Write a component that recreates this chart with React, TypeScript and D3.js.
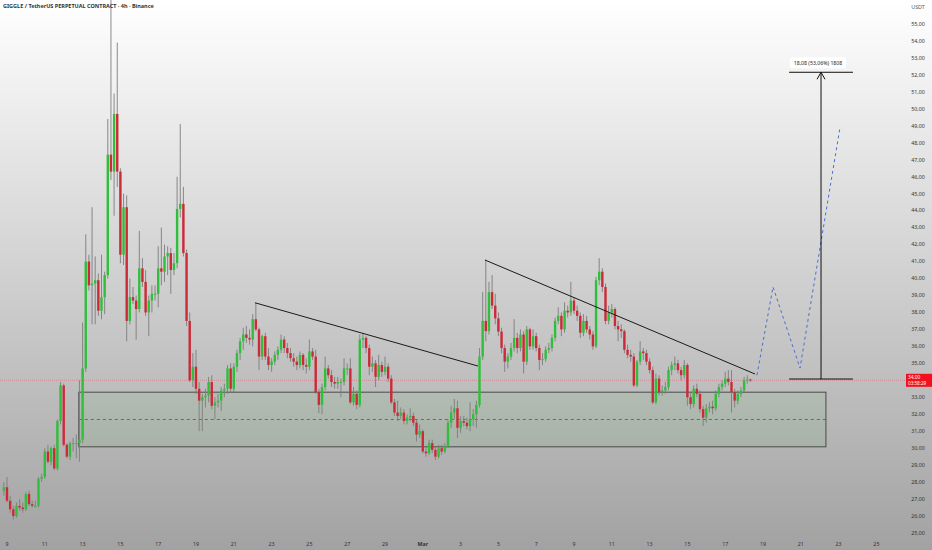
import { useEffect, useRef } from "react";
import * as d3 from "d3";

// 4h candles, first one opens on day 8 at 20:00
const startDay = 8 + 5 / 6;
const candlesPerDay = 6;

// [open, high, low, close]
const candles: [number, number, number, number][] = [
    [27.5, 28.0, 27.2, 27.7], [27.7, 28.3, 26.8, 26.9], [26.9, 27.2, 26.2, 26.4],
    [26.4, 26.6, 25.8, 26.0], [26.0, 26.8, 25.9, 26.6], [26.6, 27.0, 26.3, 26.5], [26.5, 26.8, 26.2, 26.4],
    [26.4, 27.4, 26.3, 27.3], [27.3, 27.5, 26.6, 26.7], [26.7, 26.9, 26.5, 26.6], [26.6, 26.9, 26.5, 26.6],
    [26.6, 28.3, 26.5, 28.2], [28.2, 28.5, 28.0, 28.3], [28.3, 30.0, 28.2, 29.8], [29.8, 30.2, 29.1, 29.2],
    [29.2, 30.1, 29.0, 30.0], [30.0, 30.2, 28.7, 28.8], [28.8, 31.7, 28.7, 31.6], [31.6, 33.9, 31.4, 33.7],
    [33.7, 33.8, 30.1, 30.2], [30.2, 30.3, 29.4, 29.5], [29.5, 30.4, 29.3, 30.3], [30.3, 30.6, 29.8, 30.3],
    [30.3, 30.8, 29.4, 30.3], [30.3, 34.0, 29.2, 30.5], [30.5, 37.4, 30.3, 34.7], [34.7, 42.6, 34.5, 41.0],
    [41.0, 41.4, 39.3, 39.6], [39.6, 44.2, 37.3, 39.7], [39.7, 41.3, 37.3, 39.9],
    [39.9, 40.3, 37.8, 38.1], [38.1, 41.4, 37.6, 38.9], [38.9, 40.4, 37.9, 40.2], [40.2, 49.4, 40.0, 47.3],
    [47.3, 57.5, 45.8, 46.3], [46.3, 50.9, 43.7, 49.7], [49.7, 53.9, 45.4, 46.3], [46.3, 46.5, 40.9, 41.4],
    [41.4, 45.0, 40.8, 44.2], [44.2, 44.9, 36.3, 37.5], [37.5, 40.0, 37.3, 38.9], [38.9, 39.5, 38.5, 38.7],
    [38.7, 39.0, 36.4, 38.2], [38.2, 42.8, 38.0, 40.6], [40.6, 41.2, 39.5, 39.8], [39.8, 40.5, 37.8, 38.0],
    [38.0, 39.0, 36.6, 38.7], [38.7, 39.6, 38.0, 39.1], [39.1, 39.6, 38.7, 39.1], [39.1, 41.9, 38.3, 40.6],
    [40.6, 43.0, 39.6, 40.4],
    [40.4, 42.0, 39.8, 41.3], [41.3, 41.9, 40.2, 41.5], [41.5, 41.8, 39.1, 40.5], [40.5, 41.5, 40.2, 40.9],
    [40.9, 46.0, 40.6, 44.1], [44.1, 49.1, 43.6, 44.4], [44.4, 45.4, 41.3, 41.5], [41.5, 41.7, 37.2, 37.5],
    [37.5, 38.0, 33.9, 34.0], [34.0, 35.6, 33.6, 34.8], [34.8, 35.8, 33.2, 33.5], [33.5, 33.9, 31.0, 32.8],
    [32.8, 33.2, 31.0, 33.0], [33.0, 33.5, 32.4, 33.1], [33.1, 34.2, 32.7, 33.9], [33.9, 34.3, 32.3, 32.5],
    [32.5, 33.0, 31.7, 32.7], [32.7, 33.2, 32.4, 32.8], [32.8, 33.6, 32.2, 33.4], [33.4, 33.8, 33.0, 33.5],
    [33.5, 34.9, 33.2, 34.7], [34.7, 35.0, 33.3, 33.5], [33.5, 35.0, 33.3, 34.8], [34.8, 35.8, 34.5, 35.6],
    [35.6, 36.5, 35.2, 36.3], [36.3, 37.1, 35.8, 36.7], [36.7, 37.2, 36.2, 36.5], [36.5, 37.0, 36.1, 36.4],
    [36.4, 37.9, 36.0, 37.6], [37.6, 38.55, 36.9, 37.0], [37.0, 37.1, 34.6, 35.4], [35.4, 36.7, 35.2, 36.6],
    [36.6, 36.8, 35.2, 35.4], [35.4, 35.9, 34.6, 34.9], [34.9, 35.3, 34.5, 35.1], [35.1, 35.7, 34.9, 35.5],
    [35.5, 36.0, 35.2, 35.8], [35.8, 36.7, 35.6, 36.4], [36.4, 36.6, 35.6, 35.9], [35.9, 36.2, 35.3, 35.6],
    [35.6, 35.9, 35.1, 35.3], [35.3, 35.6, 34.8, 35.1], [35.1, 35.4, 34.6, 34.9], [34.9, 35.7, 34.7, 35.5],
    [35.5, 35.6, 34.6, 34.9], [34.9, 35.3, 34.4, 34.8], [34.8, 36.4, 34.6, 35.7], [35.7, 35.9, 35.2, 35.4],
    [35.4, 35.8, 33.2, 33.3], [33.3, 33.5, 32.06, 32.55], [32.55, 33.8, 32.0, 33.6], [33.6, 35.4, 33.4, 34.7],
    [34.7, 34.9, 34.1, 34.3], [34.3, 34.6, 33.6, 33.9], [33.9, 34.2, 33.5, 33.8], [33.8, 34.2, 33.5, 33.9],
    [33.9, 34.1, 33.0, 33.9],
    [33.9, 35.3, 33.7, 34.7], [34.7, 35.0, 34.3, 34.7], [34.7, 35.3, 32.6, 32.7], [32.7, 33.6, 32.5, 33.2],
    [33.2, 33.4, 32.3, 32.55], [32.55, 36.7, 32.4, 36.4], [36.4, 36.8, 35.9, 36.5], [36.5, 36.6, 35.6, 35.9],
    [35.9, 36.1, 34.3, 34.8], [34.8, 35.4, 34.5, 35.0], [35.0, 35.2, 33.6, 34.2], [34.2, 35.5, 34.0, 34.9],
    [34.9, 35.1, 34.2, 34.5], [34.5, 35.4, 34.3, 34.8], [34.8, 35.0, 33.9, 34.1], [34.1, 34.3, 32.6, 32.7],
    [32.7, 32.9, 31.9, 32.1], [32.1, 32.8, 31.6, 31.9], [31.9, 32.4, 31.7, 32.1], [32.1, 32.3, 31.4, 31.6],
    [31.6, 32.0, 31.4, 31.8], [31.8, 32.35, 31.6, 31.9], [31.9, 32.1, 31.3, 31.5], [31.5, 31.7, 30.4, 30.8],
    [30.8, 31.4, 30.6, 31.0], [31.0, 31.1, 29.7, 29.8], [29.8, 30.1, 29.5, 29.7], [29.7, 30.5, 29.6, 30.3],
    [30.3, 30.5, 29.7, 29.9], [29.9, 30.1, 29.3, 29.5], [29.5, 30.2, 29.4, 30.0], [30.0, 30.2, 29.6, 29.8],
    [29.8, 30.3, 29.7, 30.1], [30.1, 31.7, 30.0, 31.5], [31.5, 32.5, 31.2, 32.1], [32.1, 32.9, 31.7, 32.35],
    [32.35, 32.8, 30.6, 31.2], [31.2, 31.9, 30.9, 31.6], [31.6, 31.9, 31.3, 31.5], [31.5, 31.8, 31.1, 31.3],
    [31.3, 32.7, 31.0, 31.7], [31.7, 32.3, 31.3, 32.0], [32.0, 32.8, 31.2, 32.55], [32.55, 35.9, 32.4, 35.4],
    [35.4, 39.2, 35.2, 37.5], [37.5, 41.1, 36.3, 36.9], [36.9, 39.8, 36.7, 39.2], [39.2, 40.2, 38.2, 38.4],
    [38.4, 39.1, 37.3, 37.65], [37.65, 38.0, 36.6, 36.87], [36.87, 37.1, 35.6, 35.9], [35.9, 36.1, 34.5, 35.1],
    [35.1, 35.6, 34.7, 35.4], [35.4, 36.2, 35.2, 35.9], [35.9, 37.6, 35.7, 36.5], [36.5, 36.8, 35.6, 35.9],
    [35.9, 37.0, 35.7, 36.7], [36.7, 36.9, 34.4, 35.1], [35.1, 37.2, 34.9, 37.0], [37.0, 37.1, 35.8, 36.0],
    [36.0, 37.0, 35.8, 36.6], [36.6, 36.8, 35.7, 35.9], [35.9, 36.1, 34.6, 35.2], [35.2, 35.6, 34.9, 35.25],
    [35.25, 36.0, 35.1, 35.8], [35.8, 36.2, 35.6, 35.9], [35.9, 36.7, 35.7, 36.5], [36.5, 37.7, 36.3, 37.5],
    [37.5, 38.3, 37.3, 37.8], [37.8, 38.0, 36.6, 37.0], [37.0, 38.6, 36.8, 38.1], [38.1, 38.4, 37.7, 38.0],
    [38.0, 39.8, 37.8, 38.7], [38.7, 38.9, 37.9, 38.1], [38.1, 38.4, 37.5, 37.8], [37.8, 38.0, 36.5, 36.8],
    [36.8, 37.9, 36.6, 37.5], [37.5, 37.8, 36.8, 37.0], [37.0, 37.2, 36.4, 36.7], [36.7, 36.9, 35.8, 36.0],
    [36.0, 40.1, 35.9, 39.9], [39.9, 41.2, 39.6, 40.4], [40.4, 40.6, 39.2, 39.5], [39.5, 39.7, 37.3, 37.5],
    [37.5, 38.4, 37.3, 38.0], [38.0, 38.5, 37.7, 38.2], [38.2, 38.3, 37.0, 37.2], [37.2, 37.5, 36.3, 37.0],
    [37.0, 37.3, 36.5, 36.9], [36.9, 37.0, 35.6, 35.8], [35.8, 36.1, 35.3, 35.5], [35.5, 35.8, 35.1, 35.4],
    [35.4, 35.6, 33.6, 33.7], [33.7, 35.2, 33.6, 35.1], [35.1, 36.3, 34.9, 35.7], [35.7, 35.9, 35.2, 35.6],
    [35.6, 35.8, 34.9, 35.1], [35.1, 35.3, 34.4, 34.6], [34.6, 34.8, 32.6, 32.7], [32.7, 34.4, 32.6, 34.1],
    [34.1, 34.3, 33.1, 33.3], [33.3, 33.7, 33.1, 33.4], [33.4, 33.9, 33.2, 33.6], [33.6, 34.8, 33.4, 34.6],
    [34.6, 35.1, 34.3, 34.9], [34.9, 35.4, 34.6, 35.0], [35.0, 35.2, 34.4, 34.6], [34.6, 34.8, 34.0, 34.3],
    [34.3, 35.2, 34.1, 34.9], [34.9, 35.0, 32.5, 33.0], [33.0, 33.3, 32.3, 32.6], [32.6, 33.7, 32.4, 33.5],
    [33.5, 33.8, 33.0, 33.2], [33.2, 33.4, 32.1, 32.3], [32.3, 32.5, 31.3, 31.8], [31.8, 32.6, 31.5, 32.35],
    [32.35, 32.7, 32.1, 32.45], [32.45, 32.8, 32.0, 32.35], [32.35, 33.4, 32.2, 33.2], [33.2, 33.8, 33.0, 33.6],
    [33.6, 34.0, 33.4, 33.8], [33.8, 34.5, 33.6, 34.1], [34.1, 34.6, 33.7, 33.9], [33.9, 34.6, 32.1, 33.3],
    [33.3, 33.5, 32.4, 32.8], [32.8, 33.4, 32.6, 33.2], [33.2, 33.6, 33.0, 33.4], [33.4, 34.2, 33.3, 34.0],
    [34.0, 34.3, 33.8, 34.05], [34.05, 34.1, 33.9, 34.0],
];

const priceTicks = [25, 26, 27, 28, 29, 30, 31, 32, 33, 34, 35, 36, 37, 38, 39, 40, 41, 42, 43, 44, 45, 46, 47, 48, 49, 50, 51, 52, 53, 54, 55];
const dayTicks = [9, 11, 13, 15, 17, 19, 21, 23, 25, 27, 29, 31, 33, 35, 37, 39, 41, 43, 45, 47, 49, 51, 53, 55];
const dayLabels = ["9", "11", "13", "15", "17", "19", "21", "23", "25", "27", "29", "Mar", "3", "5", "7", "9", "11", "13", "15", "17", "19", "21", "23", "25"];

// drawings: [startDay, startPrice, endDay, endPrice]
const trendLines = [
    [22.12, 38.57, 33.92, 34.84],
    [34.29, 41.09, 48.58, 34.37],
];
const zoneDays = [12.8, 52.33];
const zonePrices = [33.3, 30.08];
const projectionPath = [
    [48.68, 34.3],
    [49.53, 39.5],
    [50.96, 34.72],
    [53.07, 48.87],
];
const measureDays = [50.38, 52.07, 53.76];
const measurePrices = [34.075, 52.155];
const lastPrice = 34.0;

export default function App() {
    const svgRef = useRef<SVGSVGElement>(null);

    useEffect(() => {
        if (!svgRef.current) return;
        const width = 932;
        const height = 550;
        const plotRight = 905;

        const svg = d3.select(svgRef.current);
        svg.selectAll("*").remove();

        const x = d3.scaleLinear().domain([9, 11]).range([7, 44.8]);
        const y = d3.scaleLinear().domain([25, 55]).range([533, 24]);
        const fmt = (v: number) => d3.format(".2f")(v).replace(".", ",");

        // background gradient
        const defs = svg.append("defs");
        const grad = defs
            .append("linearGradient")
            .attr("id", "bg")
            .attr("x1", 0)
            .attr("y1", 0)
            .attr("x2", 0)
            .attr("y2", 1);
        grad.append("stop").attr("offset", "0%").attr("stop-color", "#ffffff");
        grad.append("stop").attr("offset", "100%").attr("stop-color", "#a2a2a2");
        svg.append("rect")
            .attr("width", width)
            .attr("height", height)
            .attr("fill", "url(#bg)");

        const plot = svg.append("g");

        // green zone
        plot.append("rect")
            .attr("x", x(zoneDays[0]))
            .attr("y", y(zonePrices[0]))
            .attr("width", x(zoneDays[1]) - x(zoneDays[0]))
            .attr("height", y(zonePrices[1]) - y(zonePrices[0]))
            .attr("fill", "rgba(76,175,80,0.09)")
            .attr("stroke", "#4a4a4a")
            .attr("stroke-width", 1);
        const mid = (zonePrices[0] + zonePrices[1]) / 2;
        plot.append("line")
            .attr("x1", x(zoneDays[0]))
            .attr("x2", x(zoneDays[1]))
            .attr("y1", y(mid))
            .attr("y2", y(mid))
            .attr("stroke", "#555")
            .attr("stroke-width", 0.8)
            .attr("stroke-dasharray", "3,3");

        // last price line
        plot.append("line")
            .attr("x1", 0)
            .attr("x2", plotRight)
            .attr("y1", y(lastPrice))
            .attr("y2", y(lastPrice))
            .attr("stroke", "#f23645")
            .attr("stroke-opacity", 0.45)
            .attr("stroke-width", 0.8)
            .attr("stroke-dasharray", "1,1");

        // candles
        const cx = (i: number) => x(startDay + i / candlesPerDay);
        const g = plot.append("g");
        g.selectAll("line.wick")
            .data(candles)
            .enter()
            .append("line")
            .attr("class", "wick")
            .attr("x1", (d, i) => cx(i))
            .attr("x2", (d, i) => cx(i))
            .attr("y1", (d) => y(d[1]))
            .attr("y2", (d) => y(d[2]))
            .attr("stroke", "#7d7d7d")
            .attr("stroke-width", 0.9);
        g.selectAll("rect.body")
            .data(candles)
            .enter()
            .append("rect")
            .attr("class", "body")
            .attr("x", (d, i) => cx(i) - 1.2)
            .attr("width", 2.4)
            .attr("y", (d) => y(Math.max(d[0], d[3])))
            .attr("height", (d) => Math.max(1, Math.abs(y(d[0]) - y(d[3]))))
            .attr("fill", (d) => (d[3] >= d[0] ? "#2fbf3a" : "#cc2a36"));

        // trend lines
        plot.selectAll("line.trend")
            .data(trendLines)
            .enter()
            .append("line")
            .attr("x1", (d) => x(d[0]))
            .attr("y1", (d) => y(d[1]))
            .attr("x2", (d) => x(d[2]))
            .attr("y2", (d) => y(d[3]))
            .attr("stroke", "#1a1a1a")
            .attr("stroke-width", 1);

        // projected path
        plot.append("path")
            .datum(projectionPath)
            .attr(
                "d",
                d3
                    .line<number[]>()
                    .x((d) => x(d[0]))
                    .y((d) => y(d[1])),
            )
            .attr("fill", "none")
            .attr("stroke", "#4a6fd8")
            .attr("stroke-width", 1)
            .attr("stroke-dasharray", "3,3");

        // measure tool
        const mTop = y(measurePrices[1]);
        const mBot = y(measurePrices[0]);
        const mx = x(measureDays[1]);
        [mTop, mBot].forEach((yy) => {
            plot.append("line")
                .attr("x1", x(measureDays[0]))
                .attr("x2", x(measureDays[2]))
                .attr("y1", yy)
                .attr("y2", yy)
                .attr("stroke", "#111")
                .attr("stroke-width", 1);
        });
        plot.append("line")
            .attr("x1", mx)
            .attr("x2", mx)
            .attr("y1", mTop)
            .attr("y2", mBot)
            .attr("stroke", "#111")
            .attr("stroke-width", 1);
        plot.append("path")
            .attr("d", `M${mx - 4},${mTop + 7}L${mx},${mTop}L${mx + 4},${mTop + 7}`)
            .attr("fill", "none")
            .attr("stroke", "#111")
            .attr("stroke-width", 1);
        const diff = measurePrices[1] - measurePrices[0];
        const pct = (diff / measurePrices[0]) * 100;
        const mLabel = `${fmt(diff)} (${fmt(pct)}%) ${Math.round(diff * 100)}`;
        plot.append("rect")
            .attr("x", mx - 31)
            .attr("y", mTop - 15)
            .attr("width", 56)
            .attr("height", 11)
            .attr("rx", 1.5)
            .attr("fill", "#ffffff");
        plot.append("text")
            .attr("x", mx - 3)
            .attr("y", mTop - 7.3)
            .attr("text-anchor", "middle")
            .attr("font-family", "Noto Sans, sans-serif")
            .attr("font-size", 5.2)
            .attr("fill", "#222")
            .text(mLabel);

        // price axis
        const axis = svg.append("g").attr("font-family", "Noto Sans, sans-serif");
        axis.selectAll("text.tick")
            .data(priceTicks.filter((t) => t !== 34))
            .enter()
            .append("text")
            .attr("x", 918)
            .attr("y", (d) => y(d))
            .attr("dy", "0.35em")
            .attr("text-anchor", "middle")
            .attr("font-size", 5.3)
            .attr("fill", "#333")
            .text((d) => fmt(d));
        axis.append("text")
            .attr("x", 918)
            .attr("y", 7)
            .attr("dy", "0.35em")
            .attr("text-anchor", "middle")
            .attr("font-size", 5.3)
            .attr("fill", "#555")
            .text("USDT");

        // last price badge
        const ly = y(lastPrice);
        axis.append("rect")
            .attr("x", 906)
            .attr("y", ly - 6.5)
            .attr("width", 26)
            .attr("height", 13)
            .attr("fill", "#f2101f");
        axis.append("text")
            .attr("x", 908)
            .attr("y", ly - 1.2)
            .attr("font-size", 4.8)
            .attr("fill", "#fff")
            .text(fmt(lastPrice));
        axis.append("text")
            .attr("x", 908)
            .attr("y", ly + 5)
            .attr("font-size", 4.6)
            .attr("fill", "#fff")
            .text("03:58:29");

        // time axis
        axis.selectAll("text.day")
            .data(dayTicks)
            .enter()
            .append("text")
            .attr("x", (d) => x(d))
            .attr("y", 544)
            .attr("dy", "0.35em")
            .attr("text-anchor", "middle")
            .attr("font-size", 5.3)
            .attr("font-weight", (d, i) => (dayLabels[i] === "Mar" ? 700 : 400))
            .attr("fill", "#333")
            .text((d, i) => dayLabels[i]);

        // title
        svg.append("text")
            .attr("x", 3)
            .attr("y", 8)
            .attr("font-family", "Noto Sans, sans-serif")
            .attr("font-size", 5.5)
            .attr("font-weight", 700)
            .attr("fill", "#333")
            .text("GIGGLE / TetherUS PERPETUAL CONTRACT · 4h · Binance");
    }, []);

    return (
        <svg
            ref={svgRef}
            width={932}
            height={550}
            style={{ position: "absolute", left: 0, top: 0, display: "block" }}
        ></svg>
    );
}
